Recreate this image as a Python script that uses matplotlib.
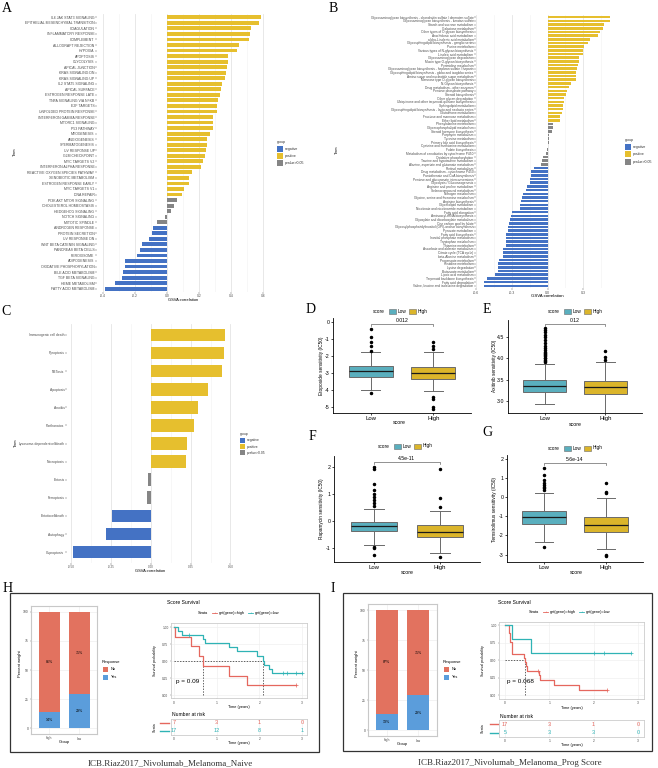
import numpy as np
import matplotlib
matplotlib.use('Agg')
import matplotlib.pyplot as plt
from matplotlib.patches import Rectangle

plt.rcParams['font.family'] = ['Liberation Sans', 'DejaVu Sans']
plt.rcParams['axes.unicode_minus'] = False

W, H = 658, 768

GROUP_COLORS = {'negative': '#4472C4', 'positive': '#E6BF2E', 'ns': '#858585'}
GROUP_LABELS = {'negative': 'negative', 'positive': 'positive', 'ns': 'pvalue>0.05'}
LOW_COLOR, HIGH_COLOR = '#5AAFBE', '#DBB52B'
NO_COLOR, YES_COLOR = '#E2725F', '#5B9DDB'
KM_HIGH, KM_LOW = '#E5675E', '#2FB3B5'
SERIF = ['Liberation Serif', 'DejaVu Serif']

# A: hallmark pathways
hallmark_terms = [
    'IL6 JAK STAT3 SIGNALING', 'EPITHELIAL MESENCHYMAL TRANSITION', 'COAGULATION',
    'INFLAMMATORY RESPONSE', 'COMPLEMENT', 'ALLOGRAFT REJECTION', 'HYPOXIA', 'APOPTOSIS',
    'GLYCOLYSIS', 'APICAL JUNCTION', 'KRAS SIGNALING DN', 'KRAS SIGNALING UP',
    'IL2 STAT5 SIGNALING', 'APICAL SURFACE', 'ESTROGEN RESPONSE LATE', 'TNFA SIGNALING VIA NFKB',
    'E2F TARGETS', 'UNFOLDED PROTEIN RESPONSE', 'INTERFERON GAMMA RESPONSE', 'MTORC1 SIGNALING',
    'P53 PATHWAY', 'MYOGENESIS', 'ANGIOGENESIS', 'SPERMATOGENESIS', 'UV RESPONSE UP',
    'G2M CHECKPOINT', 'MYC TARGETS V2', 'INTERFERON ALPHA RESPONSE',
    'REACTIVE OXYGEN SPECIES PATHWAY', 'XENOBIOTIC METABOLISM', 'ESTROGEN RESPONSE EARLY',
    'MYC TARGETS V1', 'DNA REPAIR', 'PI3K AKT MTOR SIGNALING', 'CHOLESTEROL HOMEOSTASIS',
    'HEDGEHOG SIGNALING', 'NOTCH SIGNALING', 'MITOTIC SPINDLE', 'ANDROGEN RESPONSE',
    'PROTEIN SECRETION', 'UV RESPONSE DN', 'WNT BETA CATENIN SIGNALING', 'PANCREAS BETA CELLS',
    'PEROXISOME', 'ADIPOGENESIS', 'OXIDATIVE PHOSPHORYLATION', 'BILE ACID METABOLISM',
    'TGF BETA SIGNALING', 'HEME METABOLISM', 'FATTY ACID METABOLISM',
]
hallmark_corr = [
    0.59, 0.575, 0.525, 0.52, 0.51, 0.45, 0.44, 0.38, 0.38, 0.375, 0.37, 0.36, 0.345, 0.34,
    0.33, 0.32, 0.315, 0.31, 0.29, 0.29, 0.285, 0.27, 0.25, 0.25, 0.245, 0.24, 0.225, 0.21,
    0.155, 0.135, 0.135, 0.105, 0.095, 0.06, 0.045, 0.025, -0.01, -0.06, -0.09, -0.095,
    -0.11, -0.155, -0.17, -0.19, -0.26, -0.265, -0.275, -0.28, -0.325, -0.39,
]
hallmark_group = ['positive'] * 33 + ['ns'] * 5 + ['negative'] * 12

# B: KEGG metabolism
kegg_terms = [
    'Glycosaminoglycan biosynthesis - chondroitin sulfate / dermatan sulfate',
    'Glycosaminoglycan biosynthesis - keratan sulfate', 'Starch and sucrose metabolism',
    'Galactose metabolism', 'Other types of O-glycan biosynthesis', 'Arachidonic acid metabolism',
    'alpha-Linolenic acid metabolism', 'Glycosphingolipid biosynthesis - ganglio series',
    'Purine metabolism', 'Various types of N-glycan biosynthesis', 'Linoleic acid metabolism',
    'Glycosaminoglycan degradation', 'Mucin type O-glycan biosynthesis', 'Pyrimidine metabolism',
    'Glycosaminoglycan biosynthesis - heparan sulfate / heparin',
    'Glycosphingolipid biosynthesis - globo and isoglobo series',
    'Amino sugar and nucleotide sugar metabolism', 'Mannose type O-glycan biosynthesis',
    'N-Glycan biosynthesis', 'Drug metabolism - other enzymes', 'Pentose phosphate pathway',
    'Steroid biosynthesis', 'Other glycan degradation',
    'Ubiquinone and other terpenoid-quinone biosynthesis', 'Sphingolipid metabolism',
    'Glycosphingolipid biosynthesis - lacto and neolacto series', 'Glutathione metabolism',
    'Fructose and mannose metabolism', 'Ether lipid metabolism', 'Phenylalanine metabolism',
    'Glycerophospholipid metabolism', 'Steroid hormone biosynthesis', 'Porphyrin metabolism',
    'Tyrosine metabolism', 'Primary bile acid biosynthesis', 'Cysteine and methionine metabolism',
    'Folate biosynthesis', 'Metabolism of xenobiotics by cytochrome P450',
    'Oxidative phosphorylation', 'Taurine and hypotaurine metabolism',
    'Alanine, aspartate and glutamate metabolism', 'Retinol metabolism',
    'Drug metabolism - cytochrome P450', 'Pantothenate and CoA biosynthesis',
    'Pentose and glucuronate interconversions', 'Glycolysis / Gluconeogenesis',
    'Arginine and proline metabolism', 'Selenocompound metabolism', 'Nitrogen metabolism',
    'Glycine, serine and threonine metabolism', 'Arginine biosynthesis', 'Glycerolipid metabolism',
    'Nicotinate and nicotinamide metabolism', 'Fatty acid elongation', 'Aminoacyl-tRNA biosynthesis',
    'Glyoxylate and dicarboxylate metabolism', 'One carbon pool by folate',
    'Glycosylphosphatidylinositol (GPI)-anchor biosynthesis', 'Pyruvate metabolism',
    'Fatty acid biosynthesis', 'Inositol phosphate metabolism', 'Tryptophan metabolism',
    'Thiamine metabolism', 'Ascorbate and aldarate metabolism', 'Citrate cycle (TCA cycle)',
    'beta-Alanine metabolism', 'Propanoate metabolism', 'Histidine metabolism', 'Lysine degradation',
    'Butanoate metabolism', 'Lipoic acid metabolism', 'Terpenoid backbone biosynthesis',
    'Fatty acid degradation', 'Valine, leucine and isoleucine degradation',
]
kegg_corr = [
    0.525, 0.525, 0.47, 0.465, 0.44, 0.42, 0.36, 0.34, 0.31, 0.30, 0.30, 0.265, 0.265, 0.255,
    0.245, 0.24, 0.235, 0.235, 0.195, 0.18, 0.165, 0.155, 0.14, 0.135, 0.13, 0.13, 0.12, 0.105,
    0.105,
    0.045, 0.045, 0.035, 0.015, 0.015, 0.01, 0.005, -0.005, -0.01, -0.04, -0.05, -0.055,
    -0.11, -0.14, -0.14, -0.145, -0.15, -0.17, -0.18, -0.205, -0.215, -0.225, -0.23, -0.235,
    -0.30, -0.31, -0.315, -0.32, -0.33, -0.335, -0.345, -0.345, -0.35, -0.35, -0.37, -0.375,
    -0.375, -0.41, -0.415, -0.415, -0.415, -0.44, -0.505, -0.53, -0.535,
]
kegg_group = ['positive'] * 29 + ['ns'] * 12 + ['negative'] * 33

# C: cell death patterns
death_terms = [
    'Immunogenic cell death', 'Pyroptosis', 'NETosis', 'Apoptosis', 'Anoikis', 'Parthanatos',
    'Lysosome-dependentcelldeath', 'Necroptosis', 'Entosis', 'Ferroptosis', 'Entoticcelldeath',
    'Autophagy', 'Cuproptosis',
]
death_corr = [0.467, 0.46, 0.447, 0.357, 0.296, 0.27, 0.225, 0.22, -0.02, -0.025, -0.245, -0.28, -0.49]
death_group = ['positive'] * 8 + ['ns'] * 2 + ['negative'] * 3

# D-G: drug sensitivity box stats (Low / High score)
etoposide_low = dict(med=-2.88, q1=-3.24, q3=-2.59, whislo=-4.0, whishi=-1.76,
                     fliers=[-0.41, -0.88, -1.18, -1.41, -1.7, -4.18])
etoposide_high = dict(med=-3.0, q1=-3.35, q3=-2.65, whislo=-4.06, whishi=-1.76,
                      fliers=[-1.18, -1.41, -1.6, -4.41, -4.53, -5.0, -5.12])
axitinib_low = dict(med=3.35, q1=3.21, q3=3.49, whislo=2.93, whishi=3.87,
                    fliers=[3.91, 3.94, 3.97, 4.0, 4.02, 4.05, 4.08, 4.1, 4.13, 4.16, 4.2, 4.25,
                            4.3, 4.37, 4.44, 4.5, 4.55, 4.61, 4.66, 4.72])
axitinib_high = dict(med=3.33, q1=3.16, q3=3.48, whislo=2.73, whishi=3.92,
                     fliers=[3.97, 4.03, 4.17])
rapamycin_low = dict(med=-0.19, q1=-0.37, q3=-0.04, whislo=-0.89, whishi=0.44,
                     fliers=[2.0, 1.93, 1.37, 1.15, 1.0, 0.89, 0.78, 0.67, 0.55, -0.96, -1.0, -1.26])
rapamycin_high = dict(med=-0.41, q1=-0.59, q3=-0.15, whislo=-1.19, whishi=0.37,
                      fliers=[1.93, 0.85, 0.52, -1.33])
temsirolimus_low = dict(med=-1.04, q1=-1.4, q3=-0.73, whislo=-2.34, whishi=0.22,
                        fliers=[1.51, 1.15, 0.89, 0.73, 0.62, 0.52, 0.47, 0.36, -2.6])
temsirolimus_high = dict(med=-1.46, q1=-1.81, q3=-1.03, whislo=-2.71, whishi=-0.03,
                         fliers=[0.73, 0.26, 0.22, -3.0, -3.1])

# H / I: response proportions (%)
resp_groups = ['high', 'low']
naive_no, naive_yes = [86, 71], [14, 29]
prog_no, prog_yes = [87, 71], [13, 29]

# H / I: Kaplan-Meier steps (time in years, survival), censor times
naive_high_t = [0, 0.02, 0.39, 0.59, 0.69, 1.3, 1.72]
naive_high_s = [1.0, 0.857, 0.714, 0.571, 0.429, 0.286, 0.143]
naive_high_cens = [2.87]
naive_low_t = [0, 0.1, 0.19, 0.68, 0.72, 1.28, 1.48, 1.95, 2.09, 2.12, 2.22, 2.3]
naive_low_s = [1.0, 0.94, 0.88, 0.82, 0.765, 0.70, 0.64, 0.57, 0.50, 0.44, 0.38, 0.32]
naive_low_cens = [0.35, 2.55, 2.65, 2.87, 3.0]
naive_risk_high = [7, 3, 1, 0]
naive_risk_low = [17, 12, 8, 1]

prog_high_t = [0, 0.1, 0.12, 0.15, 0.43, 0.45, 0.48, 0.5, 0.77, 0.8, 1.1, 1.68]
prog_high_s = [1.0, 0.88, 0.76, 0.59, 0.53, 0.47, 0.41, 0.35, 0.28, 0.21, 0.14, 0.07]
prog_high_cens = [0.74, 2.3]
prog_low_t = [0, 0.15, 0.59]
prog_low_s = [1.0, 0.8, 0.6]
prog_low_cens = [2.0, 2.24, 2.85]
prog_risk_high = [17, 3, 1, 0]
prog_risk_low = [5, 3, 3, 0]

fig = plt.figure(figsize=(W / 100, H / 100), dpi=100)


def px_axes(x0, y0, x1, y1):
    return fig.add_axes([x0 / W, 1 - y1 / H, (x1 - x0) / W, (y1 - y0) / H])


def ftext(x, y, s, **kw):
    kw.setdefault('ha', 'center')
    kw.setdefault('va', 'center')
    fig.text(x / W, 1 - y / H, s, **kw)


def frect(x0, y0, x1, y1, **kw):
    fig.patches.append(Rectangle((x0 / W, 1 - y1 / H), (x1 - x0) / W, (y1 - y0) / H,
                                 transform=fig.transFigure, **kw))


def gsva_panel(box, terms, corr, groups, xlim, major, minor, fmt, fs_lab, fs_tick):
    ax = px_axes(*box)
    ypos = np.arange(len(terms))[::-1]
    ax.barh(ypos, corr, height=0.7, color=[GROUP_COLORS[g] for g in groups], zorder=2)
    ax.set_xlim(*xlim)
    ax.set_ylim(-0.6, len(terms) - 0.4)
    ax.set_yticks(ypos)
    ax.set_yticklabels(terms, fontsize=fs_lab, color='#4D4D4D')
    ax.set_xticks(major)
    ax.set_xticklabels([fmt.format(v) for v in major], fontsize=fs_tick, color='#4D4D4D')
    ax.set_xticks(minor, minor=True)
    ax.grid(which='major', axis='x', color='#E4E4E4', lw=0.6)
    ax.grid(which='minor', axis='x', color='#F1F1F1', lw=0.4)
    ax.set_axisbelow(True)
    ax.tick_params(which='major', length=1.2, width=0.3, pad=0.6, color='#4D4D4D')
    ax.tick_params(which='minor', length=0)
    for sp in ax.spines.values():
        sp.set_visible(False)
    return ax


def group_legend(x, y, dy, sw, fs):
    ftext(x, y, 'group', ha='left', fontsize=fs, color='#333333')
    for i, g in enumerate(['negative', 'positive', 'ns']):
        yy = y + dy * (i + 1)
        frect(x, yy - sw / 2, x + sw, yy + sw / 2, color=GROUP_COLORS[g], lw=0)
        ftext(x + sw + 2, yy, GROUP_LABELS[g], ha='left', fontsize=fs, color='#333333')


def box_panel(box, low, high, ylim, yticks, yfmt, bracket_y, tick_d, pval):
    ax = px_axes(*box)
    stats = [dict(low, label='Low'), dict(high, label='High')]
    parts = ax.bxp(stats, positions=[1, 2], widths=0.7, patch_artist=True, capwidths=0.3,
                   boxprops=dict(edgecolor='#6A6A6A', lw=0.7),
                   whiskerprops=dict(color='#6A6A6A', lw=0.7),
                   capprops=dict(color='#6A6A6A', lw=0.7),
                   medianprops=dict(color='#1A1A1A', lw=0.9),
                   flierprops=dict(marker='o', markerfacecolor='black', markeredgecolor='black',
                                   markersize=1.5, ls='none'))
    for patch, col in zip(parts['boxes'], [LOW_COLOR, HIGH_COLOR]):
        patch.set_facecolor(col)
    ax.plot([1, 1, 2, 2], [bracket_y - tick_d, bracket_y, bracket_y, bracket_y - tick_d],
            color='#666666', lw=0.5)
    ax.text(1.5, bracket_y + tick_d * 0.5, pval, ha='center', va='bottom', fontsize=3.7)
    ax.set_xlim(0.4, 2.6)
    ax.set_ylim(*ylim)
    ax.set_yticks(yticks)
    ax.set_yticklabels([yfmt.format(v) for v in yticks], fontsize=3.8)
    ax.set_xticks([1, 2])
    ax.set_xticklabels(['Low', 'High'], fontsize=4.3)
    for side in ('top', 'right'):
        ax.spines[side].set_visible(False)
    for side in ('left', 'bottom'):
        ax.spines[side].set_linewidth(0.6)
    ax.tick_params(length=1.5, width=0.5, pad=1)
    return ax


def score_legend(x, y):
    ftext(x, y, 'score', ha='left', fontsize=3.4)
    for off, lab, col in ((16, 'Low', LOW_COLOR), (36, 'High', HIGH_COLOR)):
        frect(x + off, y - 2.5, x + off + 7, y + 2.5, facecolor=col, edgecolor='#6A6A6A', lw=0.4)
        ftext(x + off + 9, y, lab, ha='left', fontsize=3.4)


def response_panel(box, groups, no_pct, yes_pct):
    ax = px_axes(*box)
    x = np.arange(1, len(groups) + 1)
    ax.bar(x, yes_pct, width=0.7, color=YES_COLOR, zorder=2)
    ax.bar(x, no_pct, bottom=yes_pct, width=0.7, color=NO_COLOR, zorder=2)
    for xi, n, y in zip(x, no_pct, yes_pct):
        ax.text(xi, y + n / 2, f'{n}%', ha='center', va='center', fontsize=2.6, zorder=3)
        ax.text(xi, y / 2, f'{y}%', ha='center', va='center', fontsize=2.6, zorder=3)
    ax.set_xlim(0.4, 2.6)
    ax.set_ylim(-5, 105)
    ax.set_yticks([0, 25, 50, 75, 100])
    ax.set_yticklabels(['0', '25', '50', '75', '100'], fontsize=2.4, color='#444444')
    ax.set_xticks(x)
    ax.set_xticklabels(groups, fontsize=2.4, color='#444444')
    ax.grid(color='#EBEBEB', lw=0.4)
    ax.set_axisbelow(True)
    for sp in ax.spines.values():
        sp.set_color('#C8C8C8')
        sp.set_linewidth(0.8)
    ax.tick_params(length=1, width=0.3, pad=0.8, color='#666666')
    return ax


def response_legend(x, y):
    ftext(x, y, 'Response', ha='left', fontsize=3.0)
    for i, (lab, col) in enumerate((('No', NO_COLOR), ('Yes', YES_COLOR))):
        yy = y + 7.5 + 7.5 * i
        frect(x + 1, yy - 2.5, x + 6, yy + 2.5, color=col, lw=0)
        ftext(x + 9, yy, lab, ha='left', fontsize=2.8)


def km_panel(box, xlim, ylim, curves, pval, pval_xy):
    ax = px_axes(*box)
    medians = []
    for times, surv, t_end, cens, color in curves:
        times = np.asarray(times)
        surv = np.asarray(surv)
        ax.step(np.append(times, t_end), np.append(surv, surv[-1]), where='post',
                color=color, lw=0.9, zorder=3)
        idx = np.searchsorted(times, cens, side='right') - 1
        ax.plot(cens, surv[idx], ls='none', marker='+', ms=2.6, mew=0.5, color=color, zorder=3)
        below = np.nonzero(surv <= 0.5)[0]
        if len(below):
            medians.append(times[below[0]])
    if medians:
        ax.plot([0, max(medians)], [0.5, 0.5], ls=(0, (2, 2)), color='#222222', lw=0.5, zorder=2)
        for m in medians:
            ax.plot([m, m], [0, 0.5], ls=(0, (2, 2)), color='#222222', lw=0.5, zorder=2)
    ax.set_xlim(*xlim)
    ax.set_ylim(*ylim)
    ax.set_xticks([0, 1, 2, 3])
    ax.set_xticklabels(['0', '1', '2', '3'], fontsize=2.3, color='#444444')
    ax.set_yticks([0, 0.25, 0.5, 0.75, 1.0])
    ax.set_yticklabels(['0.00', '0.25', '0.50', '0.75', '1.00'], fontsize=2.3, color='#444444')
    ax.grid(color='#EDEDED', lw=0.4)
    ax.set_axisbelow(True)
    for sp in ax.spines.values():
        sp.set_color('#CCCCCC')
        sp.set_linewidth(0.6)
    ax.tick_params(length=1, width=0.3, pad=0.8, color='#666666')
    ftext(pval_xy[0], pval_xy[1], pval, ha='left', fontsize=4.6)
    return ax


def risk_panel(box, xlim, counts, colors, seg):
    ax = px_axes(*box)
    width = box[2] - box[0]
    for row, (cnt, col) in enumerate(zip(counts, colors)):
        y = 2 - row
        for t, n in enumerate(cnt):
            ax.text(t, y, str(n), color=col, ha='center', va='center', fontsize=4.0)
        ax.plot([seg[0] / width, seg[1] / width], [y, y], transform=ax.get_yaxis_transform(),
                color=col, lw=1.0, clip_on=False)
    ax.set_xlim(*xlim)
    ax.set_ylim(0.5, 2.5)
    ax.set_yticks([])
    ax.set_xticks([0, 1, 2, 3])
    ax.set_xticklabels(['0', '1', '2', '3'], fontsize=2.3, color='#444444')
    ax.grid(axis='x', color='#EDEDED', lw=0.4)
    for sp in ax.spines.values():
        sp.set_color('#CCCCCC')
        sp.set_linewidth(0.6)
    ax.tick_params(length=1, width=0.3, pad=0.8, color='#666666')
    return ax


def km_legend(x, y):
    ftext(x, y, 'Strata', ha='left', fontsize=2.8)
    for off, lab, col in ((14, 'get(gene)=high', KM_HIGH), (50, 'get(gene)=low', KM_LOW)):
        fig.add_artist(plt.Line2D([(x + off) / W, (x + off + 5) / W], [1 - y / H, 1 - y / H],
                                  color=col, lw=0.6, transform=fig.transFigure))
        ftext(x + off + 2.5, y, '+', fontsize=3, color=col)
        ftext(x + off + 7, y, lab, ha='left', fontsize=2.8)


def survival_block(frame, bars_box, bars_no, bars_yes, resp_xy, km_box, km_xlim, km_ylim,
                   curves, pval, pval_xy, risk_box, risks, seg, legend_xy, caption, caption_x):
    frect(*frame, fill=False, edgecolor='#333333', lw=0.9)
    response_panel(bars_box, resp_groups, bars_no, bars_yes)
    cy = (bars_box[1] + bars_box[3]) / 2
    ftext(bars_box[0] - 11, cy - 6, 'Percent weight', rotation=90, fontsize=2.9)
    ftext((bars_box[0] + bars_box[2]) / 2, bars_box[3] + 8.5, 'Group', fontsize=2.9)
    response_legend(*resp_xy)

    km_panel(km_box, km_xlim, km_ylim, curves, pval, pval_xy)
    ftext(km_box[0] - 16, (km_box[1] + km_box[3]) / 2, 'Survival probability', rotation=90, fontsize=2.6)
    ftext((km_box[0] + km_box[2]) / 2, km_box[3] + 9, 'Time (years)', fontsize=2.8)
    ftext(legend_xy[0] - 15, legend_xy[1] - 10, 'Score Survival', fontsize=3.6)
    km_legend(*legend_xy)

    risk_panel(risk_box, km_xlim, risks, [KM_HIGH, KM_LOW], seg)
    ftext(risk_box[0] + 1, risk_box[1] - 4, 'Number at risk', ha='left', fontsize=3.6)
    ftext(risk_box[0] - 16, (risk_box[1] + risk_box[3]) / 2, 'Strata', rotation=90, fontsize=2.6)
    ftext((risk_box[0] + risk_box[2]) / 2, risk_box[3] + 8, 'Time (years)', fontsize=2.8)
    ftext(caption_x, 763, caption, fontsize=6.5, family=SERIF, color='#333333')


def main():
    # A
    gsva_panel((97, 14, 270, 292), hallmark_terms, hallmark_corr, hallmark_group,
               (-0.4375, 0.644), [-0.4, -0.2, 0.0, 0.2, 0.4, 0.6],
               np.arange(-0.4, 0.65, 0.1), '{:.1f}', 2.5, 2.4)
    ftext(15, 152, 'Term', rotation=90, fontsize=2.8)
    ftext(183, 300, 'GSVA correlation', fontsize=2.9)
    group_legend(277, 142, 7, 6, 2.5)

    # B
    gsva_panel((476, 15, 617, 288), kegg_terms, kegg_corr, kegg_group,
               (-0.592, 0.583), [-0.6, -0.3, 0.0, 0.3],
               np.arange(-0.6, 0.6, 0.15), '{:.1f}', 2.3, 2.6)
    ftext(337, 150, 'Term', rotation=90, fontsize=2.8)
    ftext(547, 296, 'GSVA correlation', fontsize=3.2)
    group_legend(625, 140, 7.2, 6, 2.5)

    # C
    gsva_panel((67, 324, 233, 563), death_terms, death_corr, death_group,
               (-0.528, 0.516), [-0.5, -0.25, 0.0, 0.25, 0.5],
               np.arange(-0.5, 0.51, 0.125), '{:.2f}', 2.4, 2.2)
    ftext(16, 443, 'Term', rotation=90, fontsize=2.8)
    ftext(150, 571, 'GSVA correlation', fontsize=2.9)
    group_legend(240, 434, 6.3, 5, 2.4)

    # D-G
    box_panel((333, 318, 471, 413), etoposide_low, etoposide_high, (-5.35, 0.235),
              [0, -1, -2, -3, -4, -5], '{:d}', -0.12, 0.12, '0.012')
    ftext(321, 366, 'Etoposide sensitivity (IC50)', rotation=90, fontsize=3.4)
    ftext(399, 423, 'score', fontsize=3.8)
    score_legend(373, 311)

    box_panel((508, 320, 642, 413), axitinib_low, axitinib_high, (2.72, 4.90),
              [3.0, 3.5, 4.0, 4.5], '{:.1f}', 4.80, 0.047, '0.12')
    ftext(495, 366, 'Axitinib sensitivity (IC50)', rotation=90, fontsize=3.4)
    ftext(575, 424, 'score', fontsize=3.8)
    score_legend(548, 311)

    box_panel((334, 456, 480, 562), rapamycin_low, rapamycin_high, (-1.52, 2.41),
              [-1, 0, 1, 2], '{:d}', 2.19, 0.074, '4.5e-11')
    ftext(322, 509, 'Rapamycin sensitivity (IC50)', rotation=90, fontsize=3.4)
    ftext(407, 573, 'score', fontsize=3.8)
    score_legend(378, 446)

    box_panel((507, 455, 643, 562), temsirolimus_low, temsirolimus_high, (-3.39, 2.19),
              [-3, -2, -1, 0, 1, 2], '{:d}', 1.77, 0.104, '5.6e-14')
    ftext(495, 509, 'Temsirolimus sensitivity (IC50)', rotation=90, fontsize=3.4)
    ftext(576, 572, 'score', fontsize=3.8)
    score_legend(548, 448)

    # H
    survival_block((10, 593, 319, 752), (31, 606, 97, 734), naive_no, naive_yes, (102, 662),
                   (171, 623, 307, 698), (-0.07, 3.117), (-0.044, 1.059),
                   [(naive_high_t, naive_high_s, 2.87, naive_high_cens, KM_HIGH),
                    (naive_low_t, naive_low_s, 3.0, naive_low_cens, KM_LOW)],
                   'p = 0.09', (176, 682), (171, 719, 307, 735),
                   [naive_risk_high, naive_risk_low], (-11, -2), (198, 613),
                   'ICB.Riaz2017_Nivolumab_Melanoma_Naive', 170)

    # I
    survival_block((343, 593, 652, 751), (368, 604, 437, 736), prog_no, prog_yes, (443, 662),
                   (499, 622, 644, 699), (-0.135, 3.136), (-0.057, 1.043),
                   [(prog_high_t, prog_high_s, 2.3, prog_high_cens, KM_HIGH),
                    (prog_low_t, prog_low_s, 2.85, prog_low_cens, KM_LOW)],
                   'p = 0.068', (507, 682), (499, 720, 644, 737),
                   [prog_risk_high, prog_risk_low], (-9, -1), (529, 612),
                   'ICB.Riaz2017_Nivolumab_Melanoma_Prog Score', 510)

    # panel letters
    for lab, x, y in (('A', 7, 9), ('B', 333, 8), ('C', 6, 311), ('D', 311, 310), ('E', 487, 310),
                      ('F', 312, 436), ('G', 487, 433), ('H', 8, 588), ('I', 333, 588)):
        ftext(x, y, lab, fontsize=10, family=SERIF)

    fig.savefig('out.png', dpi=100)
    plt.close(fig)


if __name__ == '__main__':
    main()
